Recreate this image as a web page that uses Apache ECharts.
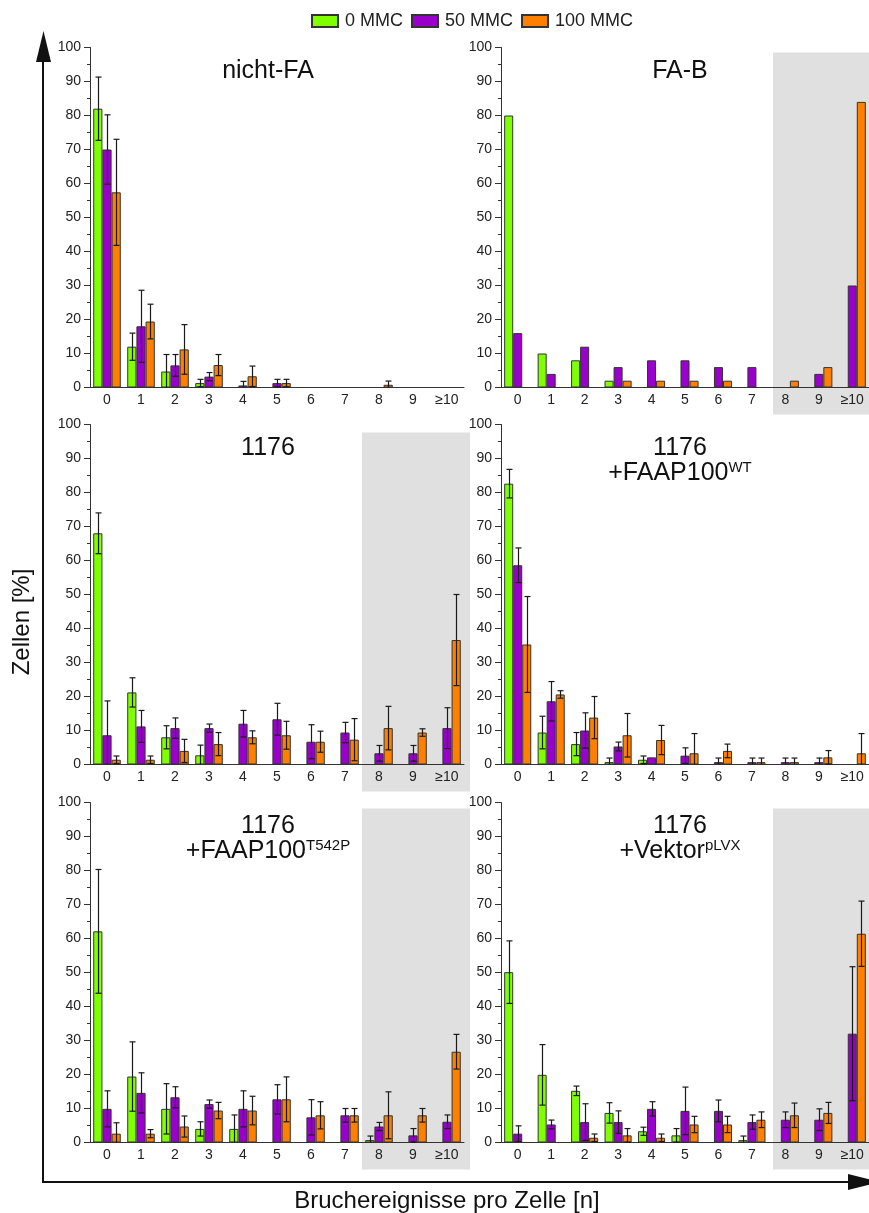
<!DOCTYPE html>
<html><head><meta charset="utf-8">
<script src="https://cdn.jsdelivr.net/npm/echarts@6/dist/echarts.min.js"></script>
<style>html,body{margin:0;padding:0;background:#fff}#c{width:869px;height:1213px}</style>
</head><body><div id="c"></div>
<script>
// ---------- DATA ----------
const categories = ['0','1','2','3','4','5','6','7','8','9','≥10'];
const seriesNames = ['0 MMC','50 MMC','100 MMC'];
const yMin = 0, yMax = 100, yStep = 10;

// nicht-FA
const nfa_0       = [82, 12, 4.7, 1.3, 0, 0, 0, 0, 0, 0, 0];
const nfa_0_err   = [9.3, 4, 5, 1.1, 0, 0, 0, 0, 0, 0, 0];
const nfa_50      = [70, 18, 6.5, 3.2, 0.6, 1.3, 0, 0, 0, 0, 0];
const nfa_50_err  = [10.2, 10.6, 3.2, 1.2, 1.2, 1.1, 0, 0, 0, 0, 0];
const nfa_100     = [57.4, 19.4, 11.2, 6.6, 3.3, 1.3, 0, 0, 0.8, 0, 0];
const nfa_100_err = [15.6, 5.1, 7.3, 3.1, 3, 1.1, 0, 0, 1.1, 0, 0];

// FA-B (no error bars)
const fab_0   = [80, 10, 8, 2, 0, 0, 0, 0, 0, 0, 0];
const fab_50  = [16, 4, 12, 6, 8, 8, 6, 6, 0, 4, 30];
const fab_100 = [0, 0, 0, 2, 2, 2, 2, 0, 2, 6, 84];

// 1176
const c1176_0       = [68, 21.2, 8, 2.7, 0, 0, 0, 0, 0, 0, 0];
const c1176_0_err   = [6, 4.3, 3.4, 3, 0, 0, 0, 0, 0, 0, 0];
const c1176_50      = [8.6, 11.2, 10.7, 10.7, 12, 13.3, 6.7, 9.4, 3.3, 3.3, 10.7];
const c1176_50_err  = [10.1, 4.7, 3, 1.2, 3.9, 4.7, 5, 3, 2.3, 2.3, 6];
const c1176_100     = [1.4, 1.4, 4, 6, 8, 8.6, 6.7, 7.3, 10.7, 9.4, 36.6];
const c1176_100_err = [1.1, 1.1, 3.4, 3.4, 1.9, 4.1, 3.1, 6.2, 6.4, 1.1, 13.4];

// 1176 +FAAP100 WT
const wt_0       = [82.6, 9.4, 6, 0.7, 1.4, 0, 0, 0, 0, 0, 0];
const wt_0_err   = [4.2, 4.8, 3.4, 1.2, 1.1, 0, 0, 0, 0, 0, 0];
const wt_50      = [58.6, 18.6, 10, 5.3, 2.1, 2.6, 0.7, 0.7, 0.7, 0.7, 0];
const wt_50_err  = [5.1, 5.8, 5.2, 1.3, 0, 2.3, 1.2, 1.2, 1.2, 1.2, 0];
const wt_100     = [35.3, 20.6, 13.8, 8.6, 7.2, 3.3, 4, 0.7, 0.7, 2.1, 3.3];
const wt_100_err = [14.1, 1.1, 6.2, 6.4, 4.3, 5.8, 2, 1.2, 1.2, 2, 5.8];

// 1176 +FAAP100 T542P
const tp_0       = [62.1, 19.4, 9.9, 4, 4, 0, 0, 0, 0.7, 0, 0];
const tp_0_err   = [18.2, 10.2, 7.4, 2.1, 4.1, 0, 0, 0, 1.2, 0, 0];
const tp_50      = [9.9, 14.6, 13.3, 11.3, 9.9, 12.7, 7.4, 8, 4.7, 2.1, 6.1];
const tp_50_err  = [5.3, 5.9, 3.1, 1.2, 5.3, 4.3, 5.2, 2, 1.2, 2, 2];
const tp_100     = [2.6, 2.6, 4.7, 9.4, 9.4, 12.7, 8, 8, 8, 8, 26.7];
const tp_100_err = [3.2, 1.2, 3.1, 2.4, 4.2, 6.6, 4, 2, 6.9, 2, 5.1];

// 1176 +Vektor pLVX
const vk_0       = [50.1, 19.9, 15.2, 8.7, 3.3, 2.1, 0, 0.7, 0, 0, 0];
const vk_0_err   = [9.2, 8.9, 1.4, 3, 1.2, 2, 0, 1.2, 0, 0, 0];
const vk_50      = [2.6, 5.3, 6, 6, 9.9, 9.3, 9.3, 6, 6.7, 6.7, 32];
const vk_50_err  = [2.3, 1.3, 5.4, 3.3, 2.1, 7, 3.2, 2.1, 2.3, 3.2, 19.7];
const vk_100     = [0, 0, 1.4, 2.1, 1.4, 5.3, 5.3, 6.7, 8, 8.7, 61.4];
const vk_100_err = [0, 0, 1.1, 2, 1.1, 2.4, 2.4, 2.3, 3.6, 3.1, 9.6];

// ---------- LAYOUT ----------
const FONT = "'Liberation Sans', Arial, Helvetica, sans-serif";
const colors = ['#80ff00', '#9900cc', '#ff8000'];
const BAR_FRAC = 0.27;
const gridLefts = [90, 501];
const gridTops = [47.5, 424.5, 802.5];
const GW = 374, GH = 340;
const titleX = [268, 680];
const shadeTopOff = [5, 8, 6];

const panels = [
  {t1:'nicht-FA', t2:null, vals:[nfa_0,nfa_50,nfa_100], errs:[nfa_0_err,nfa_50_err,nfa_100_err], col:0, row:0, shade:false},
  {t1:'FA-B', t2:null, vals:[fab_0,fab_50,fab_100], errs:null, col:1, row:0, shade:true},
  {t1:'1176', t2:null, vals:[c1176_0,c1176_50,c1176_100], errs:[c1176_0_err,c1176_50_err,c1176_100_err], col:0, row:1, shade:true},
  {t1:'1176', t2:'+FAAP100{sup|WT}', vals:[wt_0,wt_50,wt_100], errs:[wt_0_err,wt_50_err,wt_100_err], col:1, row:1, shade:false},
  {t1:'1176', t2:'+FAAP100{sup|T542P}', vals:[tp_0,tp_50,tp_100], errs:[tp_0_err,tp_50_err,tp_100_err], col:0, row:2, shade:true},
  {t1:'1176', t2:'+Vektor{sup|pLVX}', vals:[vk_0,vk_50,vk_100], errs:[vk_0_err,vk_50_err,vk_100_err], col:1, row:2, shade:true}
];

function renderErr(params, api) {
  const ci = api.value(0), si = api.value(1), v = api.value(2), e = api.value(3);
  const band = api.size([1, 0])[0];
  const x = Math.round(api.coord([ci, 0])[0] + (si - 1) * band * BAR_FRAC) + 0.5;
  const yTop = api.coord([ci, v + e])[1];
  const lo = v - e;
  const yBot = api.coord([ci, Math.max(lo, 0)])[1];
  const style = {stroke: '#1a1a1a', lineWidth: 1.2};
  const ch = [
    {type:'line', shape:{x1:x, y1:yTop, x2:x, y2:yBot}, style},
    {type:'line', shape:{x1:x-3, y1:yTop, x2:x+3, y2:yTop}, style}
  ];
  if (lo > 0) ch.push({type:'line', shape:{x1:x-3, y1:yBot, x2:x+3, y2:yBot}, style});
  return {type:'group', children: ch};
}

const grids = [], xAxes = [], yAxes = [], series = [], titles = [], graphics = [];
const axisColor = '#333';
panels.forEach((p, i) => {
  const left = gridLefts[p.col], top = gridTops[p.row];
  grids.push({left, top, width: GW, height: GH, containLabel: false});
  xAxes.push({
    type:'category', gridIndex:i, data:categories, boundaryGap:true,
    axisLine:{lineStyle:{color:axisColor, width:1}},
    axisTick:{alignWithLabel:true, length:5, lineStyle:{color:axisColor}},
    axisLabel:{fontSize:14, color:'#222', fontFamily:FONT, margin:6, interval:0}
  });
  yAxes.push({
    type:'value', gridIndex:i, min:yMin, max:yMax, interval:yStep,
    axisLine:{show:true, lineStyle:{color:axisColor, width:1}},
    axisTick:{show:true, length:6, lineStyle:{color:axisColor}},
    minorTick:{show:true, splitNumber:2, length:3, lineStyle:{color:axisColor}},
    splitLine:{show:false},
    axisLabel:{fontSize:14, color:'#222', fontFamily:FONT, margin:9}
  });
  p.vals.forEach((arr, si) => {
    series.push({
      type:'bar', name:seriesNames[si], xAxisIndex:i, yAxisIndex:i, data:arr,
      barWidth:(BAR_FRAC*100)+'%', barGap:'0%',
      itemStyle:{color:colors[si], borderColor:'#333', borderWidth:1},
      z:2, animation:false
    });
  });
  if (p.errs) {
    const ed = [];
    p.errs.forEach((arr, si) => arr.forEach((e, ci) => { if (e > 0) ed.push([ci, si, p.vals[si][ci], e]); }));
    series.push({type:'custom', xAxisIndex:i, yAxisIndex:i, data:ed, encode:{x:0, y:2}, renderItem:renderErr, z:5, silent:true, animation:false});
  }
  const ts = {fontSize:25, fontFamily:FONT, color:'#111', fontWeight:'normal',
              rich:{sup:{fontSize:15, fontFamily:FONT, color:'#111', verticalAlign:'top', lineHeight:26}}};
  titles.push({text:p.t1, left:titleX[p.col], top:top + 23.5 - 13, textAlign:'center', padding:0, textStyle:Object.assign({lineHeight:26}, ts)});
  if (p.t2) titles.push({text:p.t2, left:titleX[p.col], top:top + 48.5 - 13, textAlign:'center', padding:0, textStyle:Object.assign({lineHeight:26}, ts)});
  if (p.shade) {
    const band = GW / categories.length;
    const x0 = left + 8 * band;
    graphics.push({type:'rect', z:-10, silent:true,
      shape:{x:x0, y:top + shadeTopOff[p.row], width:(left + GW + 6) - x0, height:GH - shadeTopOff[p.row] + 27},
      style:{fill:'#e0e0e0'}});
  }
});

// outer axes with arrows
graphics.push({type:'line', z:10, shape:{x1:43, y1:1182, x2:43, y2:50}, style:{stroke:'#111', lineWidth:2}});
graphics.push({type:'polygon', z:10, shape:{points:[[43.5,31],[36,62],[51,62]]}, style:{fill:'#111'}});
graphics.push({type:'line', z:10, shape:{x1:42, y1:1182, x2:855, y2:1182}, style:{stroke:'#111', lineWidth:2}});
graphics.push({type:'polygon', z:10, shape:{points:[[880,1182],[848,1174],[848,1190]]}, style:{fill:'#111'}});
graphics.push({type:'text', z:10, x:22, y:622, rotation:Math.PI/2,
  style:{text:'Zellen [%]', font:"24px 'Liberation Sans', Arial, sans-serif", fill:'#111', textAlign:'center', textVerticalAlign:'middle'}});
graphics.push({type:'text', z:10, x:447, y:1201,
  style:{text:'Bruchereignisse pro Zelle [n]', font:"24px 'Liberation Sans', Arial, sans-serif", fill:'#111', textAlign:'center', textVerticalAlign:'middle'}});

const chart = echarts.init(document.getElementById('c'));
chart.setOption({
  backgroundColor:'#fff',
  animation:false,
  title: titles,
  legend:{data:seriesNames, top:12, left:311, padding:0, itemWidth:26, itemHeight:12, itemGap:8, icon:'rect',
          textStyle:{fontSize:18, fontFamily:FONT, color:'#222', padding:[0,0,0,2]}},
  grid: grids, xAxis: xAxes, yAxis: yAxes, series: series,
  graphic: graphics
});
</script></body></html>
